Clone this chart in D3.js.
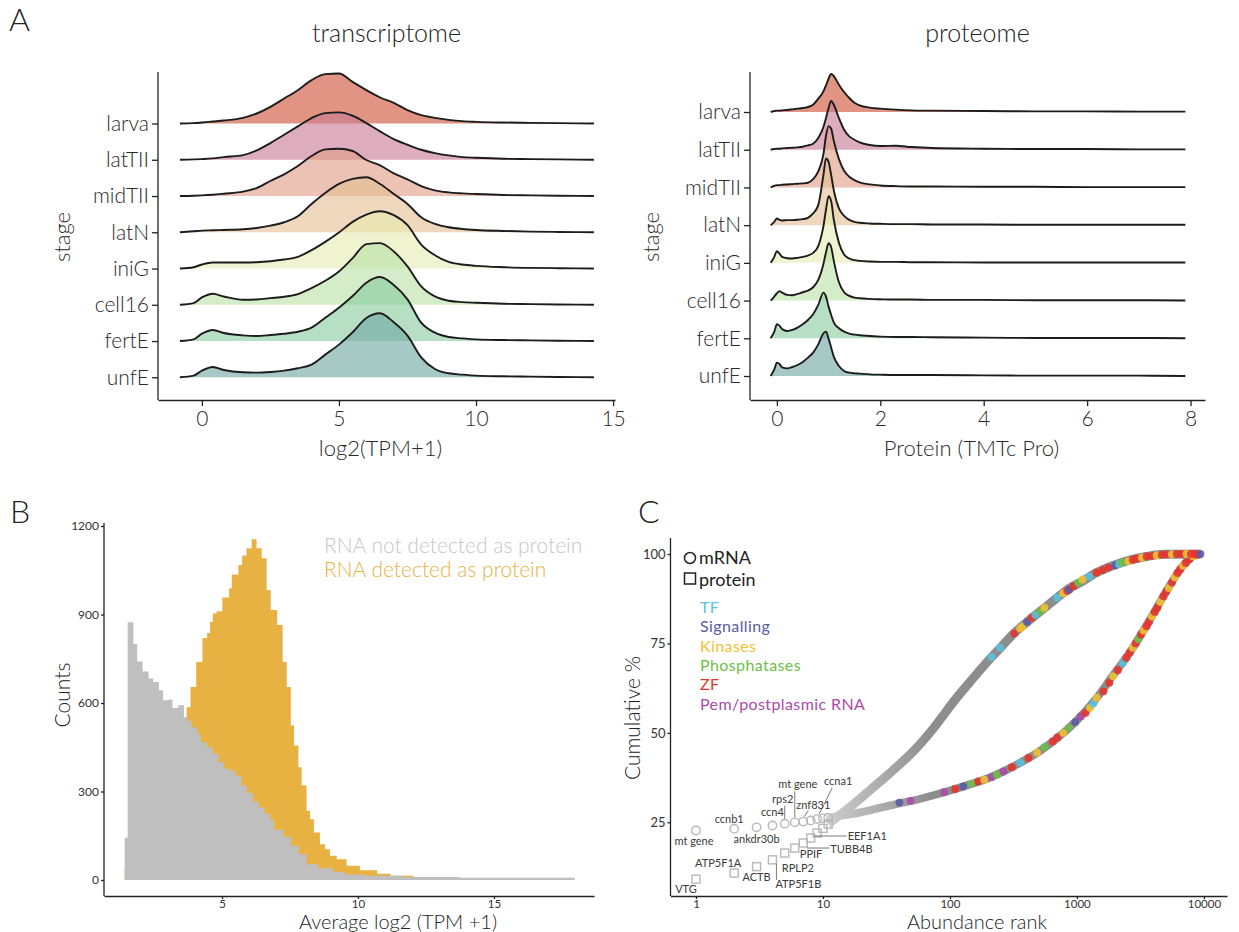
<!DOCTYPE html>
<html>
<head>
<meta charset="utf-8">
<script src="https://cdn.jsdelivr.net/npm/d3@7"></script>
<style>
  body { margin: 0; background: #fff; }
  svg text { font-family: Lato, "Open Sans", sans-serif; }
</style>
</head>
<body>
<div id="fig"></div>
<script>
//////////////////////////////////////////////
// data A: ridgelines ////////////////////////
//////////////////////////////////////////////
var stages = ["larva", "latTII", "midTII", "latN", "iniG", "cell16", "fertE", "unfE"];
var stageFill = ["#cf5337", "#c87a96", "#de9d85", "#e3be93", "#e6ebb1", "#b9e1a5", "#89cba0", "#71a8a3"];

// log2(TPM+1) grid, densities per stage
var tpmGrid = [-0.8, -0.3, 0, 0.4, 0.8, 1.5, 2, 2.5, 3, 3.5, 4, 4.5, 5, 5.5, 6, 6.5, 7, 7.5, 8, 8.5, 9, 9.5, 10, 11, 12, 13, 14.3];
var tpmDensity = [
  [0,.001,.003,.006,.009,.017,.030,.050,.075,.100,.130,.148,.150,.125,.100,.078,.062,.040,.025,.017,.011,.007,.005,.003,.002,.001,0], // larva
  [0,.001,.002,.004,.008,.014,.028,.050,.075,.100,.125,.140,.142,.132,.110,.085,.062,.045,.030,.020,.013,.008,.006,.003,.002,.001,0], // latTII
  [0,.001,.002,.004,.007,.013,.024,.045,.065,.090,.120,.140,.142,.135,.108,.092,.068,.050,.030,.017,.011,.008,.006,.003,.002,.001,0], // midTII
  [0,.003,.005,.006,.007,.009,.013,.020,.030,.048,.085,.118,.145,.160,.165,.145,.115,.085,.045,.025,.015,.010,.007,.004,.002,.001,0], // latN
  [0,.004,.012,.018,.018,.018,.019,.022,.027,.035,.055,.080,.108,.140,.162,.172,.160,.130,.072,.040,.020,.012,.008,.004,.002,.001,0], // iniG
  [0,.005,.022,.033,.025,.015,.016,.020,.024,.032,.050,.072,.100,.140,.182,.185,.160,.115,.055,.025,.012,.008,.006,.003,.002,.001,0], // cell16
  [0,.005,.022,.033,.024,.017,.015,.018,.022,.028,.040,.070,.100,.135,.175,.192,.168,.125,.055,.025,.012,.008,.005,.003,.002,.001,0], // fertE
  [0,.005,.020,.031,.022,.015,.014,.016,.020,.027,.038,.068,.098,.135,.178,.192,.165,.125,.060,.025,.012,.008,.005,.003,.002,.001,0]  // unfE
];

// protein (TMTc Pro) grid, densities per stage
var protGrid = [-0.12, -0.05, 0, 0.05, 0.1, 0.2, 0.3, 0.4, 0.5, 0.6, 0.7, 0.8, 0.9, 0.95, 1.0, 1.05, 1.1, 1.2, 1.3, 1.4, 1.5, 1.6, 1.8, 2.0, 2.3, 2.6, 3, 4, 5, 6, 7, 7.9];
var protDensity = [
  [0,.03,.04,.04,.05,.06,.08,.10,.12,.15,.22,.40,.62,.80,1.00,1.14,1.08,.82,.60,.42,.28,.20,.13,.10,.07,.05,.04,.03,.02,.02,.01,.01],
  [0,.02,.03,.03,.04,.05,.06,.07,.09,.13,.18,.35,.68,.95,1.25,1.46,1.35,.95,.60,.40,.30,.22,.14,.11,.12,.08,.05,.03,.02,.02,.01,.01],
  [0,.05,.07,.07,.08,.09,.10,.11,.12,.14,.25,.48,1.00,1.55,1.84,1.76,1.40,.85,.50,.32,.22,.15,.09,.06,.04,.03,.03,.02,.02,.01,.01,.01],
  [0,.10,.20,.16,.14,.15,.15,.16,.18,.22,.35,.60,1.50,2.00,1.90,1.50,1.05,.50,.28,.16,.10,.07,.05,.04,.03,.03,.02,.02,.01,.01,.01,.01],
  [0,.18,.35,.28,.18,.14,.13,.15,.18,.22,.30,.50,1.10,1.60,2.00,1.85,1.30,.60,.25,.13,.08,.06,.04,.03,.03,.02,.02,.01,.01,.01,.01,.01],
  [0,.12,.22,.28,.24,.17,.16,.20,.25,.30,.40,.62,1.10,1.45,1.72,1.60,1.20,.55,.25,.14,.09,.07,.05,.04,.03,.03,.02,.02,.01,.01,.01,0],
  [0,.20,.42,.38,.28,.22,.25,.32,.42,.55,.72,1.00,1.37,1.25,.95,.70,.48,.30,.20,.14,.11,.09,.07,.05,.04,.04,.03,.02,.01,.01,.01,0],
  [0,.20,.40,.36,.26,.23,.27,.33,.42,.55,.70,.95,1.28,1.33,1.12,.85,.58,.30,.15,.10,.08,.07,.05,.04,.03,.03,.03,.02,.01,.01,.01,0]
];

//////////////////////////////////////////////
// data B: histogram (steps) /////////////////
//////////////////////////////////////////////
var grayEdges = [1.42,1.53,1.74,1.88,2.08,2.30,2.47,2.68,2.83,3.04,3.18,3.39,3.60,3.74,3.88,4.09,4.23,4.45,4.66,4.87,5.08,5.29,5.50,5.71,5.92,6.14,6.35,6.56,6.77,6.91,7.26,7.54,7.83,8.11,8.53,9.09,9.51,10.22,11.63,13.74,17.97];
var grayCounts = [143,874,800,741,707,683,671,643,609,612,583,592,552,538,518,496,467,450,428,399,377,370,353,320,295,265,246,225,205,170,147,116,87,53,40,27,19,14,10,8];
var orangeEdges = [1.42,2.0,2.5,3.0,3.4,3.70,3.84,4.05,4.28,4.45,4.56,4.66,4.80,5.01,5.26,5.36,5.60,5.74,5.90,6.09,6.27,6.46,6.64,6.79,7.03,7.23,7.38,7.53,7.65,7.81,7.93,8.11,8.24,8.38,8.60,8.79,8.97,9.22,9.58,10.07,10.71,11.20,12.04,13.17];
var orangeCounts = [40,120,260,400,480,586,654,739,820,837,875,903,911,958,989,1036,1068,1100,1125,1155,1125,1091,983,915,864,739,654,524,456,382,320,235,206,161,121,104,82,70,48,33,21,14,10];

//////////////////////////////////////////////
// data C: cumulative abundance //////////////
//////////////////////////////////////////////
var topRank = [1, 2, 3, 4, 5, 6, 7, 8, 9, 10, 11];
var topMrnaPct = [22.7, 23.2, 23.6, 24.1, 24.6, 25.0, 25.2, 25.5, 25.9, 26.1, 26.3];
var topProtPct = [9.1, 10.8, 12.6, 14.5, 16.4, 17.8, 19.2, 20.6, 22.0, 23.3, 24.5];

var mrnaLabelRank = [1, 2, 3, 4, 5, 6, 7, 9];
var mrnaLabelText = ["mt gene", "ccnb1", "ankdr30b", "ccn4", "rps2", "mt gene", "znf831", "ccna1"];
var protLabelRank = [1, 2, 3, 4, 5, 6, 7, 8];
var protLabelText = ["VTG", "ATP5F1A", "ACTB", "ATP5F1B", "RPLP2", "PPIF", "TUBB4B", "EEF1A1"];

var mrnaCurveRank = [11, 15, 20, 40, 50, 90, 150, 200, 300, 400, 500, 700, 1000, 1400, 1900, 2600, 3500, 4800, 6500, 8200, 9600];
var mrnaCurvePct  = [26.3, 27, 27.8, 30.3, 31, 33.4, 35.8, 37.3, 40.2, 42.6, 44.7, 48.5, 53.5, 59.3, 65.8, 72.4, 79.8, 88.2, 95.7, 99.4, 100];
var protCurveRank = [11, 12, 15, 18, 23.5, 35, 53, 75, 110, 150, 213, 250, 318, 405, 545, 700, 890, 1060, 1430, 1930, 2600, 3540, 4800, 9400];
var protCurvePct  = [24.5, 25.6, 28.2, 30.5, 34, 39.3, 45.3, 51.5, 59.3, 65, 71.2, 73.8, 77.8, 81, 84.7, 87.8, 90.6, 92, 94.8, 96.8, 98.3, 99.3, 99.9, 100];

var categories = ["TF", "Signalling", "Kinases", "Phosphatases", "ZF", "Pem/postplasmic RNA"];
var categoryColors = ["#56c1e0", "#5b5aa6", "#f2c230", "#6cbf45", "#e7332b", "#ac4aa6"];

// highlighted genes on the mRNA curve: rank, cumulative %, category index
var mrnaHiRank = [40,49,90,110,127,148,167,186,213,234,264,307,357,415,485,555,645,700,780,860,970,1070,1170,1270,1350,1430,1620,1800,1930,2100,2300,2450,2600,2750,2900,3050,3200,3350,3540,3700,3900,4100,4300,4550,4800,5050,5300,5600,5900,6200,6500,6850,7200,7700,8200,8800];
var mrnaHiPct  = [30.5,31.0,33.4,34.3,35,35.8,36.4,36.9,37.6,38.3,39.2,40.4,41.7,43,44.5,46,47.6,48.7,50,51.4,53,54.6,55.6,57,58.2,59.8,61.6,64,65.8,67.5,69.5,71,72.4,73.8,75,76.2,77.5,78.6,79.8,81,82.5,83.8,85,86.6,88.2,89.5,90.5,92,93.5,94.7,95.7,96.7,97.5,98.5,99.4,99.8];
var mrnaHiCat  = [1,5,5,4,1,3,4,2,5,3,5,4,0,4,2,3,4,4,2,3,1,5,4,2,0,2,4,4,2,4,0,4,4,2,4,3,4,2,4,4,2,4,4,2,4,4,2,4,2,4,4,2,4,4,2,4];

// highlighted genes on the protein curve
var protHiRank = [213,248,322,357,372,405,440,470,515,555,700,780,840,870,940,1020,1110,1250,1430,1590,1770,2000,2150,2250,2550,2750,2950,3250,3540,3900,4250,4650,5100,5600,6100,6700,7300,7900,8500,9400];
var protHiPct  = [71.2,73.8,77.8,79.2,79.7,81,82.2,83,84,85,87.8,89,89.7,90,91,92,92.9,93.7,94.8,95.5,96.2,96.8,97.2,97.6,98,98.4,98.7,99,99.3,99.5,99.6,99.8,99.9,99.9,100,100,100,100,100,100];
var protHiCat  = [0,0,4,2,2,1,4,0,3,2,0,2,4,1,4,3,2,0,4,4,4,1,0,3,2,4,4,2,4,4,2,4,4,2,4,4,2,4,4,1];

//////////////////////////////////////////////
// Canvas ////////////////////////////////////
//////////////////////////////////////////////
var svg = d3.select("#fig").append("svg")
    .attr("width", 1239)
    .attr("height", 932);
svg.append("rect").attr("width", 1239).attr("height", 932).attr("fill", "#fff");
var defs = svg.append("defs");

function panelLetter(txt, x, y) {
  svg.append("text").attr("x", x).attr("y", y)
    .style("font-size", "32px").style("font-weight", 300).attr("fill", "#222")
    .text(txt);
}

function styleAxis(sel, size, color, weight) {
  sel.selectAll("path, line").attr("stroke", "#222").attr("stroke-width", 1.3);
  sel.selectAll("text").style("font-size", size + "px").style("font-weight", weight || 400)
    .attr("fill", color || "#333");
}

//////////////////////////////////////////////
// A: ridgelines /////////////////////////////
//////////////////////////////////////////////
function drawRidges(cfg) {
  var g = svg.append("g");
  var area = d3.area().curve(d3.curveMonotoneX)
      .x(function(d) { return cfg.x(d[0]); })
      .y0(0)
      .y1(function(d) { return -cfg.h(d[1]); });
  var line = d3.line().curve(d3.curveMonotoneX)
      .x(function(d) { return cfg.x(d[0]); })
      .y(function(d) { return -cfg.h(d[1]); });

  // draw from back (larva) to front (unfE)
  cfg.dens.forEach(function(row, i) {
    var pts = cfg.grid.map(function(v, j) { return [v, row[j]]; });
    var rg = g.append("g").attr("transform", "translate(0," + cfg.y(stages[i]) + ")");
    rg.append("path").datum(pts).attr("d", area)
      .attr("fill", stageFill[i]).attr("fill-opacity", 0.62);
    rg.append("path").datum(pts).attr("d", line)
      .attr("fill", "none").attr("stroke", "#1c1c1c").attr("stroke-width", 1.9)
      .attr("stroke-linejoin", "round");
  });

  var x0 = cfg.x.range()[0];
  var yAx = g.append("g").attr("transform", "translate(" + x0 + ",0)")
      .call(d3.axisLeft(cfg.y).tickSize(6).tickPadding(3));
  yAx.select(".domain").remove();
  styleAxis(yAx, 21, "#2a2a2a", 300);
  g.append("line").attr("x1", x0).attr("x2", x0).attr("y1", cfg.top).attr("y2", cfg.bottom)
    .attr("stroke", "#222").attr("stroke-width", 1.3);

  var xAx = g.append("g").attr("transform", "translate(0," + cfg.bottom + ")")
      .call(d3.axisBottom(cfg.x).tickValues(cfg.ticks).tickSize(6).tickSizeOuter(0).tickPadding(5));
  styleAxis(xAx, 21, "#2a2a2a", 300);

  g.append("text").attr("x", d3.mean(cfg.x.range())).attr("y", 42)
    .attr("text-anchor", "middle").style("font-size", "25px").style("font-weight", 300)
    .attr("fill", "#222").text(cfg.title);
  g.append("text").attr("x", (cfg.x.range()[0] + cfg.x.range()[1]) / 2 - 6).attr("y", 456)
    .attr("text-anchor", "middle").style("font-size", "22px").style("font-weight", 300)
    .attr("fill", "#2a2a2a").text(cfg.xTitle);
  g.append("text").attr("transform", "translate(" + cfg.yTitleX + ",237) rotate(-90)")
    .attr("text-anchor", "middle").style("font-size", "22px").style("font-weight", 300)
    .attr("fill", "#2a2a2a").text("stage");
}

drawRidges({
  grid: tpmGrid, dens: tpmDensity,
  x: d3.scaleLinear().domain([-1.6, 15.07]).range([158, 615]),
  y: d3.scalePoint().domain(stages).range([123.5, 377.3]),
  h: d3.scaleLinear().domain([0, 0.15]).range([0, 50]),
  ticks: [0, 5, 10, 15], top: 72, bottom: 400,
  title: "transcriptome", xTitle: "log2(TPM+1)", yTitleX: 70
});

drawRidges({
  grid: protGrid, dens: protDensity,
  x: d3.scaleLinear().domain([-0.52, 8.28]).range([750, 1205]),
  y: d3.scalePoint().domain(stages).range([112, 376]),
  h: d3.scaleLinear().domain([0, 1.5]).range([0, 50]),
  ticks: [0, 2, 4, 6, 8], top: 72, bottom: 400,
  title: "proteome", xTitle: "Protein (TMTc Pro)", yTitleX: 659
});

panelLetter("A", 9, 31);

//////////////////////////////////////////////
// B: histogram //////////////////////////////
//////////////////////////////////////////////
var xB = d3.scaleLinear().domain([0.66, 18.68]).range([104, 594]);
var yB = d3.scaleLinear().domain([0, 1200]).range([880, 526]);
var gB = svg.append("g");

var stepArea = d3.area().curve(d3.curveStepAfter)
    .x(function(d) { return xB(d[0]); })
    .y0(yB(0))
    .y1(function(d) { return yB(d[1]); });
function drawSteps(edges, counts, color) {
  var pts = edges.map(function(e, i) { return [e, i < counts.length ? counts[i] : counts[counts.length - 1]]; });
  gB.append("path").datum(pts).attr("d", stepArea).attr("fill", color);
}
// orange drawn first, grey overlaid
drawSteps(orangeEdges, orangeCounts, "#e8b243");
drawSteps(grayEdges, grayCounts, "#bfbfbf");

var yAxB = gB.append("g").attr("transform", "translate(104,0)")
    .call(d3.axisLeft(yB).tickValues([0, 300, 600, 900, 1200]).tickFormat(d3.format("d"))
      .tickSize(3).tickPadding(2));
yAxB.select(".domain").remove();
styleAxis(yAxB, 12, "#333");
gB.append("line").attr("x1", 104).attr("x2", 104).attr("y1", 523).attr("y2", 896)
  .attr("stroke", "#222").attr("stroke-width", 1.3);
var xAxB = gB.append("g").attr("transform", "translate(0,896)")
    .call(d3.axisBottom(xB).tickValues([5, 10, 15]).tickSize(3).tickSizeOuter(0).tickPadding(1));
styleAxis(xAxB, 11.5, "#333");

gB.append("text").attr("x", 398).attr("y", 929).attr("text-anchor", "middle")
  .style("font-size", "20px").style("font-weight", 300).attr("fill", "#222").text("Average log2 (TPM +1)");
gB.append("text").attr("transform", "translate(70,695) rotate(-90)").attr("text-anchor", "middle")
  .style("font-size", "21px").style("font-weight", 300).attr("fill", "#222").text("Counts");
gB.append("text").attr("x", 324).attr("y", 553).style("font-size", "21px").style("font-weight", 300)
  .attr("fill", "#c6c6c6").text("RNA not detected as protein");
gB.append("text").attr("x", 324).attr("y", 577).style("font-size", "21px").style("font-weight", 300)
  .attr("fill", "#e8b243").text("RNA detected as protein");

panelLetter("B", 10, 523);

//////////////////////////////////////////////
// C: cumulative abundance ///////////////////
//////////////////////////////////////////////
var xC = d3.scaleLog().domain([0.63, 15200]).range([670.5, 1227]);
var yC = d3.scaleLinear().domain([0, 100]).range([911.7, 554]);
var gC = svg.append("g");

var grad = defs.append("linearGradient").attr("id", "bandGrad")
    .attr("gradientUnits", "userSpaceOnUse")
    .attr("x1", xC(11)).attr("x2", xC(70)).attr("y1", 0).attr("y2", 0);
grad.append("stop").attr("offset", 0).attr("stop-color", "#cdcdcd");
grad.append("stop").attr("offset", 1).attr("stop-color", "#8d8d8d");

var band = d3.line().curve(d3.curveMonotoneX)
    .x(function(d) { return xC(d[0]); })
    .y(function(d) { return yC(d[1]); });
function zip(a, b) { return a.map(function(v, i) { return [v, b[i]]; }); }

gC.append("path").datum(zip(protCurveRank, protCurvePct)).attr("d", band)
  .attr("fill", "none").attr("stroke", "url(#bandGrad)").attr("stroke-width", 9);
gC.append("path").datum(zip(mrnaCurveRank, mrnaCurvePct)).attr("d", band)
  .attr("fill", "none").attr("stroke", "url(#bandGrad)").attr("stroke-width", 8);

// hollow markers for the top ranked genes
gC.append("g").selectAll("circle").data(topRank).enter().append("circle")
  .attr("cx", function(d) { return xC(d); })
  .attr("cy", function(d, i) { return yC(topMrnaPct[i]); })
  .attr("r", 4.2).attr("fill", "none").attr("stroke", "#b8b8b8").attr("stroke-width", 1.4);
gC.append("g").selectAll("rect").data(topRank).enter().append("rect")
  .attr("x", function(d) { return xC(d) - 4; })
  .attr("y", function(d, i) { return yC(topProtPct[i]) - 4; })
  .attr("width", 8).attr("height", 8)
  .attr("fill", "none").attr("stroke", "#b8b8b8").attr("stroke-width", 1.4);

// coloured highlight genes
function drawHi(ranks, pcts, cats) {
  gC.append("g").selectAll("circle").data(ranks).enter().append("circle")
    .attr("cx", function(d) { return xC(d); })
    .attr("cy", function(d, i) { return yC(pcts[i]); })
    .attr("r", 3.9)
    .attr("fill", function(d, i) { return categoryColors[cats[i]]; })
    .attr("fill-opacity", 0.88);
}
drawHi(mrnaHiRank, mrnaHiPct, mrnaHiCat);
drawHi(protHiRank, protHiPct, protHiCat);

// gene labels: offsets from each marker (px) and optional leader lines
var mrnaNudge = [
  {dx: -2, dy: 14}, {dx: -5, dy: -6}, {dx: 0, dy: 16}, {dx: 0, dy: -9},
  {dx: -2, dy: -21, lead: [0, -5, 0, -18]},
  {dx: 3, dy: -34, lead: [0, -5, 0, -31]},
  {dx: 10, dy: -13, lead: [1, -5, 5, -11]},
  {dx: 21, dy: -34, lead: [2, -5, 15, -31]}
];
var protNudge = [
  {dx: -10, dy: 14, a: "middle"}, {dx: -16, dy: -6, a: "middle"}, {dx: 0, dy: 14, a: "middle"},
  {dx: 3, dy: 28, a: "start", lead: [4, 4, 4, 20]},
  {dx: -3, dy: 19, a: "start"}, {dx: 5, dy: 10, a: "start"},
  {dx: 27, dy: 10, a: "start", lead: [4, 5, 26, 5]},
  {dx: 37, dy: 2, a: "start", lead: [4, -2, 36, -2]}
];
function drawLabels(ranks, texts, pctArr, nudge) {
  ranks.forEach(function(r, i) {
    var cx = xC(r), cy = yC(pctArr[topRank.indexOf(r)]), n = nudge[i];
    if (n.lead) {
      gC.append("line").attr("x1", cx + n.lead[0]).attr("y1", cy + n.lead[1])
        .attr("x2", cx + n.lead[2]).attr("y2", cy + n.lead[3])
        .attr("stroke", "#555").attr("stroke-width", 0.8);
    }
    gC.append("text").attr("x", cx + n.dx).attr("y", cy + n.dy)
      .attr("text-anchor", n.a || "middle").style("font-size", "11px").attr("fill", "#3a3a3a")
      .text(texts[i]);
  });
}
drawLabels(mrnaLabelRank, mrnaLabelText, topMrnaPct, mrnaNudge);
drawLabels(protLabelRank, protLabelText, topProtPct, protNudge);

// axes
var yAxC = gC.append("g").attr("transform", "translate(670.5,0)")
    .call(d3.axisLeft(yC).tickValues([25, 50, 75, 100]).tickSize(3).tickPadding(2));
yAxC.select(".domain").remove();
styleAxis(yAxC, 13, "#333");
gC.append("line").attr("x1", 670.5).attr("x2", 670.5).attr("y1", 538).attr("y2", 896)
  .attr("stroke", "#222").attr("stroke-width", 1.3);
var xAxC = gC.append("g").attr("transform", "translate(0,896)")
    .call(d3.axisBottom(xC).tickValues([1, 10, 100, 1000, 10000]).tickFormat(d3.format("d"))
      .tickSize(3).tickSizeOuter(0).tickPadding(1));
styleAxis(xAxC, 11.5, "#333");

gC.append("text").attr("x", 977).attr("y", 929).attr("text-anchor", "middle")
  .style("font-size", "20px").style("font-weight", 300).attr("fill", "#222").text("Abundance rank");
gC.append("text").attr("transform", "translate(640,718) rotate(-90)").attr("text-anchor", "middle")
  .style("font-size", "21px").style("font-weight", 300).attr("fill", "#222").text("Cumulative %");

// legend
gC.append("circle").attr("cx", 690).attr("cy", 558).attr("r", 5.5)
  .attr("fill", "none").attr("stroke", "#222").attr("stroke-width", 1.5);
gC.append("text").attr("x", 699).attr("y", 563.5).style("font-size", "18px").attr("fill", "#222").text("mRNA");
gC.append("rect").attr("x", 684.5).attr("y", 573).attr("width", 11).attr("height", 11)
  .attr("fill", "none").attr("stroke", "#222").attr("stroke-width", 1.5);
gC.append("text").attr("x", 699).attr("y", 585.5).style("font-size", "18px").attr("fill", "#222").text("protein");

gC.append("g").selectAll("text").data(categories).enter().append("text")
  .attr("x", 700)
  .attr("y", function(d, i) { return 613 + i * 19.3; })
  .style("font-size", "16px")
  .style("letter-spacing", "0.4px")
  .attr("fill", function(d, i) { return categoryColors[i]; })
  .text(function(d) { return d; });

panelLetter("C", 638, 523);
</script>
</body>
</html>
